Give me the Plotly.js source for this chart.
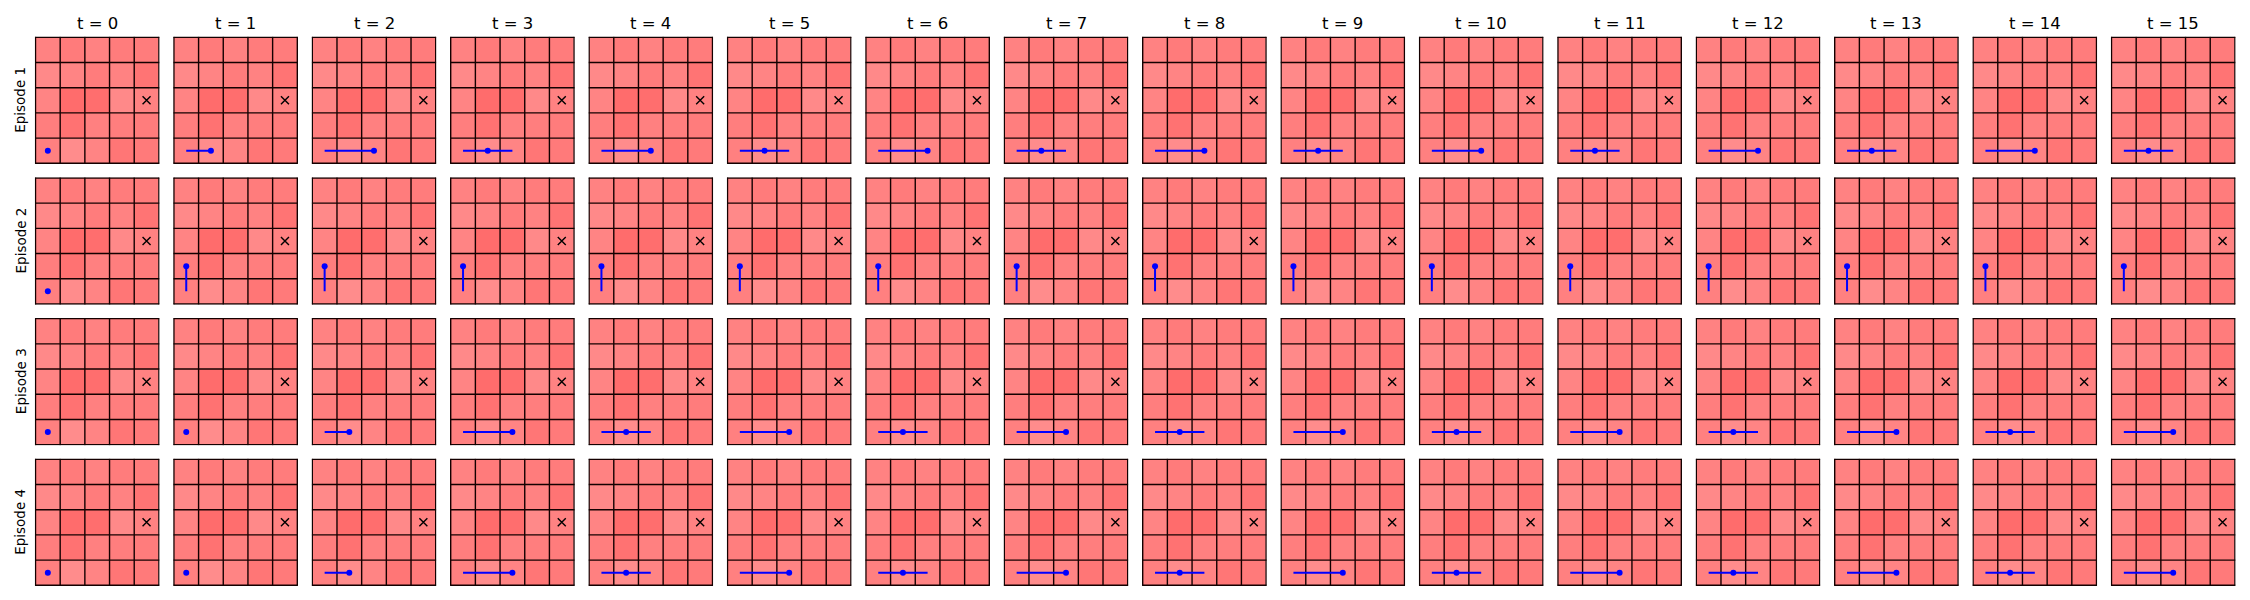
<!DOCTYPE html>
<html>
<head>
<meta charset="utf-8">
<script src="https://cdn.plot.ly/plotly-3.0.1.min.js"></script>
<style>html,body{margin:0;padding:0;background:#fff;}</style>
</head>
<body>
<div id="chart" style="width:2250px;height:600px;"></div>
<script>
// Value grid (rows listed top to bottom, y = 4 .. 0), columns x = 0 .. 4
const gridRowsY = [4, 3, 2, 1, 0];
const gridCols = [0, 1, 2, 3, 4];
const values = [
  [0.490, 0.518, 0.490, 0.514, 0.514],
  [0.463, 0.482, 0.514, 0.490, 0.545],
  [0.482, 0.576, 0.569, 0.463, 0.490],
  [0.506, 0.553, 0.498, 0.506, 0.514],
  [0.498, 0.451, 0.482, 0.537, 0.522]
];
const goal = {x: 4, y: 2};
const timeSteps = [0,1,2,3,4,5,6,7,8,9,10,11,12,13,14,15];
const episodeLabels = ["Episode 1", "Episode 2", "Episode 3", "Episode 4"];
// agent position at each time step, per episode
const ep1X = [0,1,2,1,2,1,2,1,2,1,2,1,2,1,2,1];
const ep1Y = [0,0,0,0,0,0,0,0,0,0,0,0,0,0,0,0];
const ep2X = [0,0,0,0,0,0,0,0,0,0,0,0,0,0,0,0];
const ep2Y = [0,1,1,1,1,1,1,1,1,1,1,1,1,1,1,1];
const ep3X = [0,0,1,2,1,2,1,2,1,2,1,2,1,2,1,2];
const ep3Y = [0,0,0,0,0,0,0,0,0,0,0,0,0,0,0,0];
const ep4X = [0,0,1,2,1,2,1,2,1,2,1,2,1,2,1,2];
const ep4Y = [0,0,0,0,0,0,0,0,0,0,0,0,0,0,0,0];
const episodesX = [ep1X, ep2X, ep3X, ep4X];
const episodesY = [ep1Y, ep2Y, ep3Y, ep4Y];

const W = 2250, H = 600;
const panelLeft0 = 35.5, panelStepX = 138.4, panelW = 123.4;
const panelTop0 = 37.3, panelStepY = 140.67, panelH = 126;

// cell boundaries derived from the grid columns / rows
const lo = -0.5, hi = gridCols.length - 0.5;
const pad = 0.03;
const span = hi - lo;
const gridLX = [], gridLY = [];
for (let k = 0; k <= gridCols.length; k++) {
  const b = lo + k;
  gridLX.push(b, b, null); gridLY.push(lo - 0.02, hi + 0.02, null);
  gridLX.push(lo - 0.02, hi + 0.02, null); gridLY.push(b, b, null);
}

const data = [];
const layout = {
  width: W, height: H,
  margin: {l: 0, r: 0, t: 0, b: 0},
  paper_bgcolor: '#ffffff',
  plot_bgcolor: 'rgba(0,0,0,0)',
  showlegend: false,
  font: {family: 'DejaVu Sans', color: '#000000'},
  annotations: []
};

let idx = 0;
for (let r = 0; r < episodeLabels.length; r++) {
  for (let c = 0; c < timeSteps.length; c++) {
    idx++;
    const xa = idx === 1 ? 'x' : 'x' + idx;
    const ya = idx === 1 ? 'y' : 'y' + idx;
    const xKey = idx === 1 ? 'xaxis' : 'xaxis' + idx;
    const yKey = idx === 1 ? 'yaxis' : 'yaxis' + idx;
    const left = panelLeft0 + panelStepX * c;
    const top = panelTop0 + panelStepY * r;
    const padX = panelW * pad / span, padY = panelH * pad / span;
    const axBase = {
      range: [lo - pad, hi + pad], showticklabels: false, ticks: '', showgrid: false,
      zeroline: false, showline: false, fixedrange: true
    };
    layout[xKey] = Object.assign({}, axBase, {
      domain: [(left - padX) / W, (left + panelW + padX) / W], anchor: ya
    });
    layout[yKey] = Object.assign({}, axBase, {
      domain: [(H - top - panelH - padY) / H, (H - top + padY) / H], anchor: xa
    });
    data.push({
      type: 'heatmap', x: gridCols, y: gridRowsY, z: values,
      zmin: 0, zmax: 1,
      colorscale: [[0, 'rgb(255,255,255)'], [1, 'rgb(255,0,0)']],
      showscale: false, hoverinfo: 'skip',
      xaxis: xa, yaxis: ya
    });
    data.push({
      type: 'scatter', mode: 'lines', x: gridLX, y: gridLY,
      line: {color: '#140000', width: 1.4}, connectgaps: false,
      hoverinfo: 'skip', xaxis: xa, yaxis: ya
    });
    data.push({
      type: 'scatter', mode: 'markers', x: [goal.x], y: [goal.y],
      marker: {symbol: 'x-thin', size: 8, line: {width: 1.4, color: '#000000'}, color: '#000000'},
      hoverinfo: 'skip', xaxis: xa, yaxis: ya
    });
    const t = timeSteps[c];
    const px = episodesX[r].slice(0, t + 1);
    const py = episodesY[r].slice(0, t + 1);
    if (px.length > 1) {
      data.push({
        type: 'scatter', mode: 'lines', x: px, y: py,
        line: {color: '#0000ff', width: 2},
        hoverinfo: 'skip', xaxis: xa, yaxis: ya
      });
    }
    data.push({
      type: 'scatter', mode: 'markers', x: [px[px.length - 1]], y: [py[py.length - 1]],
      marker: {size: 6, color: '#0000ff'},
      hoverinfo: 'skip', xaxis: xa, yaxis: ya
    });
    if (r === 0) {
      layout.annotations.push({
        text: 't = ' + t, xref: 'paper', yref: 'paper',
        x: (left + panelW / 2) / W, y: 1 - 23.5 / H,
        xanchor: 'center', yanchor: 'middle', showarrow: false,
        font: {size: 16.5, family: 'DejaVu Sans', color: '#000000'}
      });
    }
    if (c === 0) {
      layout.annotations.push({
        text: episodeLabels[r], xref: 'paper', yref: 'paper',
        x: 20.5 / W, y: 1 - (top + panelH / 2) / H,
        xanchor: 'center', yanchor: 'middle', showarrow: false, textangle: -90,
        font: {size: 13.5, family: 'DejaVu Sans', color: '#000000'}
      });
    }
  }
}

Plotly.newPlot('chart', data, layout, {staticPlot: true, displayModeBar: false});
</script>
</body>
</html>
